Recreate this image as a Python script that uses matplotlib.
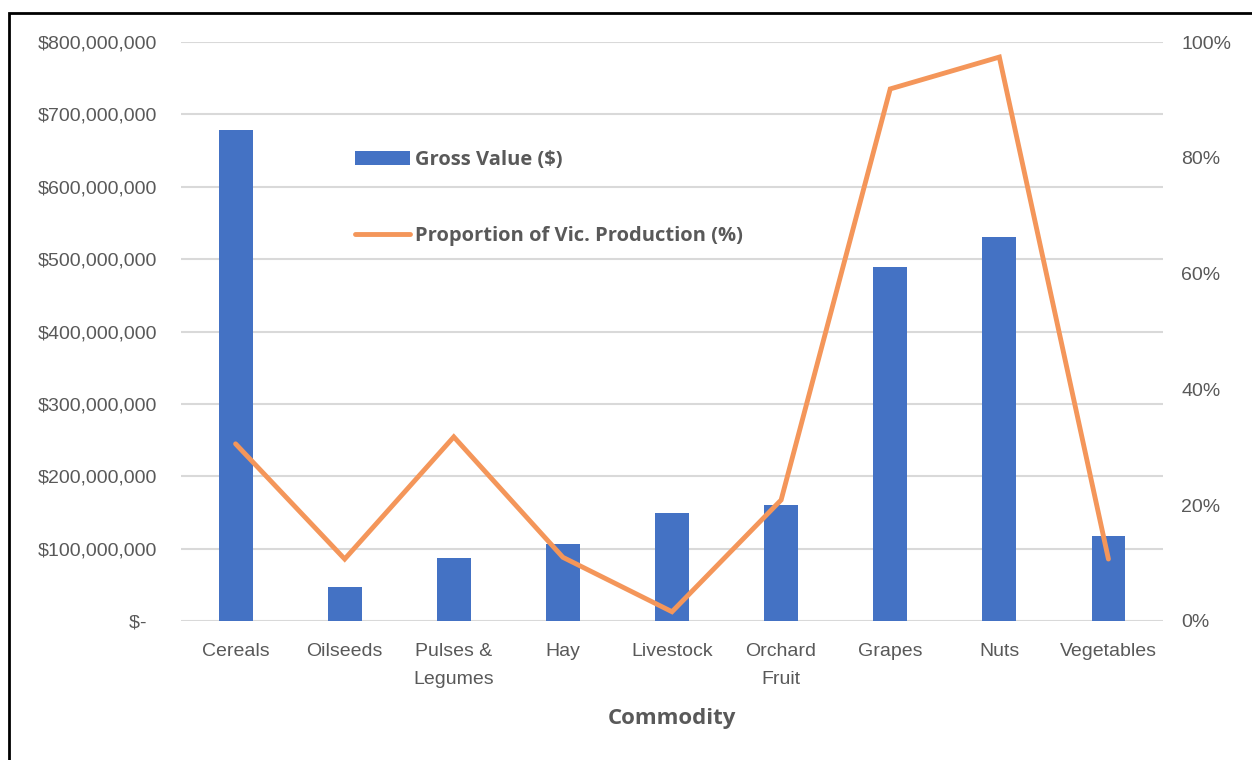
"""
Gross value of agricultural commodities and share of Victorian production.
"""

import matplotlib.pyplot as plt
from matplotlib.patches import Rectangle
from matplotlib.ticker import FuncFormatter, PercentFormatter

commodities = ["Cereals", "Oilseeds", "Pulses &\nLegumes", "Hay", "Livestock",
               "Orchard\nFruit", "Grapes", "Nuts", "Vegetables"]
gross_value = [679e6, 47e6, 87e6, 106e6, 149e6, 160e6, 489e6, 531e6, 117e6]
vic_share = [30.6, 10.7, 31.8, 11.0, 1.6, 20.9, 91.9, 97.4, 10.7]

BAR_COLOR = "#4472C4"
LINE_COLOR = "#F4965A"
TEXT_COLOR = "#595959"
GRID_COLOR = "#D9D9D9"
TICK_FONT = ["Liberation Sans Narrow", "Liberation Sans", "DejaVu Sans"]
BOLD_FONT = ["Open Sans", "DejaVu Sans"]


def dollar_fmt(v, pos):
    # accounting style: zero shown as a dash
    if v == 0:
        return "$-  "
    return f"${v:,.0f}"


fig = plt.figure(figsize=(12.52, 7.6), dpi=100)
ax = fig.add_axes([0.1446, 0.1829, 0.7843, 0.7618])
ax2 = ax.twinx()

x = range(len(commodities))
bars = ax.bar(x, gross_value, width=0.31, color=BAR_COLOR, zorder=3,
              label="Gross Value ($)")
line, = ax2.plot(x, vic_share, color=LINE_COLOR, lw=3.5, zorder=4,
                 solid_capstyle="round", solid_joinstyle="miter",
                 label="Proportion of Vic. Production (%)")

ax.set_xlim(-0.5, len(commodities) - 0.5)
ax.set_ylim(0, 800e6)
ax.set_yticks([i * 100e6 for i in range(9)])
ax.yaxis.set_major_formatter(FuncFormatter(dollar_fmt))
ax2.set_ylim(0, 100)
ax2.set_yticks(range(0, 101, 20))
ax2.yaxis.set_major_formatter(PercentFormatter(decimals=0))

ax.set_xticks(list(x))
ax.set_xticklabels(commodities, linespacing=1.8)

# Gridlines and axis styling
ax.grid(axis="y", color=GRID_COLOR, lw=1.5, zorder=0)
ax.set_axisbelow(True)
for a in (ax, ax2):
    for s in a.spines.values():
        s.set_visible(False)
    a.tick_params(length=0, colors=TEXT_COLOR, labelsize=14)
    for lbl in a.get_xticklabels() + a.get_yticklabels():
        lbl.set_family(TICK_FONT)
ax.tick_params(axis="y", pad=17)
ax.tick_params(axis="x", pad=16)
ax2.tick_params(axis="y", pad=13)

ax.set_xlabel("Commodity", fontsize=16, fontweight="bold", color=TEXT_COLOR,
              family=BOLD_FONT, labelpad=15)

leg = ax.legend(handles=[bars, line], loc="upper left",
                bbox_to_anchor=(0.159, 0.845), frameon=False,
                handlelength=2.7, handletextpad=0.25, labelspacing=2.8,
                prop={"family": BOLD_FONT, "weight": "bold", "size": 14.5})
for t in leg.get_texts():
    t.set_color(TEXT_COLOR)

# Outer frame of the chart
fig.patches.append(Rectangle((9 / 1252, -0.1), 1.2, 1.1 - 13 / 760,
                             transform=fig.transFigure, fill=False,
                             edgecolor="black", lw=2))

fig.savefig("out.png", dpi=100)
